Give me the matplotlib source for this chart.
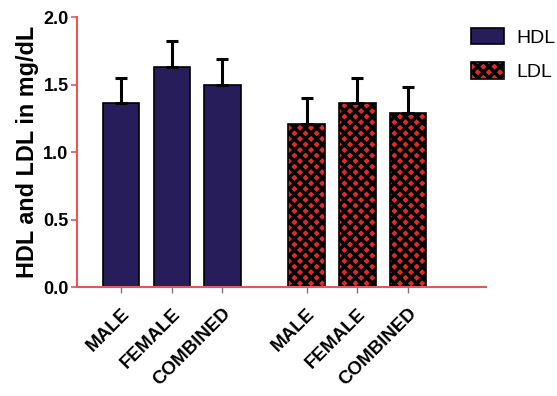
import numpy as np
import matplotlib
matplotlib.use('Agg')
import matplotlib.pyplot as plt

plt.rcParams['font.family'] = ['Liberation Sans', 'DejaVu Sans']
plt.rcParams['hatch.linewidth'] = 2.5

categories = ['MALE', 'FEMALE', 'COMBINED']
hdl = [1.36, 1.63, 1.50]
hdl_err = [0.19, 0.19, 0.19]
ldl = [1.21, 1.36, 1.29]
ldl_err = [0.19, 0.19, 0.19]
yticks = [0.0, 0.5, 1.0, 1.5, 2.0]

red = '#e8545c'
fig = plt.figure(figsize=(5.57, 3.96), dpi=100)
ax = fig.add_axes([0.138, 0.275, 0.735, 0.682])

x1 = np.arange(3)
x2 = np.arange(3) + 3.65
w = 0.71

ax.bar(x1, hdl, width=w, color='#261d5a', edgecolor='black', linewidth=1.2,
       yerr=[[0] * 3, hdl_err], capsize=4.5,
       error_kw=dict(elinewidth=2.2, capthick=2.2, ecolor='black'), label='HDL', zorder=2)
ax.bar(x2, ldl, width=w, color='#e02a2a', edgecolor='black', hatch='xxx', linewidth=1.2,
       yerr=[[0] * 3, ldl_err], capsize=4.5,
       error_kw=dict(elinewidth=2.2, capthick=2.2, ecolor='black'), label='LDL', zorder=2)

ax.set_xlim(-0.86, 7.18)
ax.set_ylim(0, 2.0)
ax.set_yticks(yticks)
ax.set_yticklabels(['%.1f' % t for t in yticks], fontsize=13, fontweight='bold')
ax.set_xticks(list(x1) + list(x2))
ax.set_xticklabels(categories * 2, rotation=45, ha='right', rotation_mode='anchor',
                   fontsize=13.5, fontweight='bold')
ax.set_ylabel('HDL and LDL in mg/dL', fontsize=16.8, fontweight='bold', labelpad=3)

for s in ['top', 'right']:
    ax.spines[s].set_visible(False)
for s in ['left', 'bottom']:
    ax.spines[s].set_color(red)
    ax.spines[s].set_linewidth(1.5)
ax.tick_params(axis='y', colors=red, length=4, width=1.2, labelcolor='black', pad=2)
ax.tick_params(axis='x', colors='#777777', length=4, width=1, labelcolor='black', pad=9)

leg = ax.legend(loc='upper left', bbox_to_anchor=(0.92, 1.025), frameon=False,
                fontsize=14, handlelength=1.7, handleheight=0.93, labelspacing=0.8,
                handletextpad=0.65)

fig.savefig('out.png', dpi=100)
